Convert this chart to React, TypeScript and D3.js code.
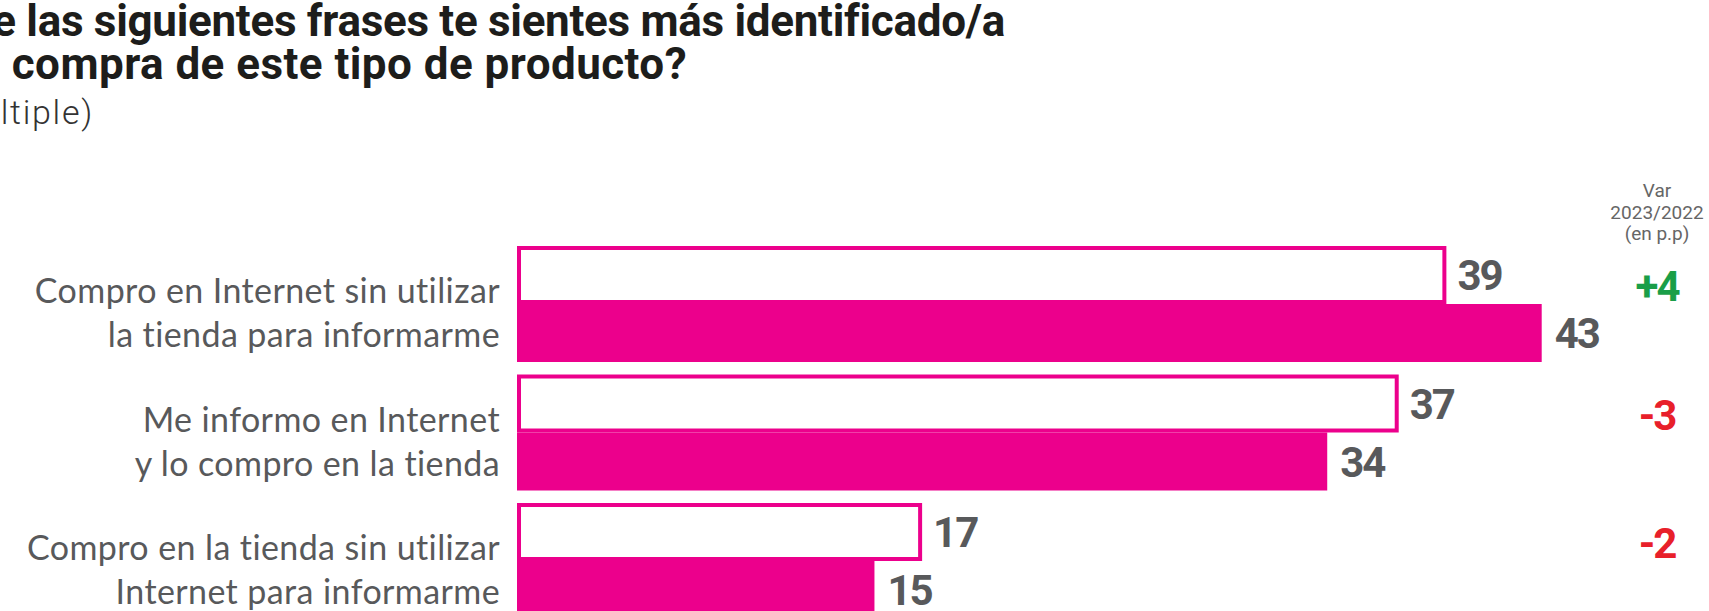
import React from "react";
import * as d3 from "d3";

const categories: string[][] = [
  ["Compro en Internet sin utilizar", "la tienda para informarme"],
  ["Me informo en Internet", "y lo compro en la tienda"],
  ["Compro en la tienda sin utilizar", "Internet para informarme"],
];
const values2022: number[] = [39, 37, 17];
const values2023: number[] = [43, 34, 15];
const variation: string[] = ["+4", "-3", "-2"];
const titleLines: string[] = [
  "¿Con cuál de las siguientes frases te sientes más identificado/a",
  "en la compra de este tipo de producto?",
];
const subtitle = "(Respuesta múltiple)";
const varHeader: string[] = ["Var", "2023/2022", "(en p.p)"];

const W = 1709;
const H = 611;
const PINK = "#EC008C";
const GREY = "#58595B";
const NUM_FONT = "Roboto, sans-serif";

export default function App() {
  const x = d3.scaleLinear().domain([0, 43]).range([517, 1541.7]);
  const y = d3
    .scaleBand<number>()
    .domain(d3.range(categories.length))
    .range([246, 619])
    .paddingInner(0.0973);
  const bw = y.bandwidth() / 2;
  const sw = 4;

  return (
    <div style={{ position: "absolute", left: 0, top: 0 }}>
      <svg width={W} height={H} style={{ display: "block", background: "#fff" }}>
        <g fontFamily="Roboto, sans-serif" fill="#1d1d1b">
          {titleLines.map((t, i) => (
            <text
              key={i}
              x={i === 0 ? 1005 : 687}
              y={i === 0 ? 36 : 79}
              textAnchor="end"
              fontSize={44}
              fontWeight={700}
              letterSpacing={i === 0 ? -0.3 : 0.45}
            >
              {t}
            </text>
          ))}
          <text
            x={94}
            y={124}
            textAnchor="end"
            fontSize={34}
            fontWeight={300}
            letterSpacing={1.7}
            fill="#333"
          >
            {subtitle}
          </text>
        </g>

        <g fontFamily="Roboto, sans-serif" fill="#666" fontSize={19} textAnchor="middle">
          {varHeader.map((t, i) => (
            <text key={i} x={1657} y={197 + i * 21.5}>
              {t}
            </text>
          ))}
        </g>

        {categories.map((lines, i) => {
          const y0 = y(i)!;
          const cy = y0 + y.bandwidth() / 2;
          return (
            <g key={i}>
              <text
                fontFamily="Lato, sans-serif"
                fontSize={34}
                fill={GREY}
                textAnchor="end"
                letterSpacing={0.4}
              >
                <tspan x={500} y={cy - 1}>{lines[0]}</tspan>
                <tspan x={500} y={cy + 43}>{lines[1]}</tspan>
              </text>
              <rect
                x={x(0) + sw / 2}
                y={y0 + sw / 2}
                width={x(values2022[i]) - x(0) - sw}
                height={bw - sw}
                fill="#fff"
                stroke={PINK}
                strokeWidth={sw}
              />
              <rect
                x={x(0)}
                y={y0 + bw}
                width={x(values2023[i]) - x(0)}
                height={bw}
                fill={PINK}
              />
              <text
                x={x(values2022[i]) + 11}
                y={y0 + bw / 2}
                dy="0.36em"
                fontFamily={NUM_FONT}
                fontWeight={700}
                fontSize={42}
                letterSpacing={-2}
                fill={GREY}
              >
                {values2022[i]}
              </text>
              <text
                x={x(values2023[i]) + 13}
                y={y0 + bw * 1.5}
                dy="0.36em"
                fontFamily={NUM_FONT}
                fontWeight={700}
                fontSize={42}
                letterSpacing={-2}
                fill={GREY}
              >
                {values2023[i]}
              </text>
              <text
                x={1657}
                y={cy - 18}
                dy="0.36em"
                textAnchor="middle"
                fontFamily={NUM_FONT}
                fontWeight={700}
                fontSize={42}
                letterSpacing={-2}
                fill={variation[i].startsWith("+") ? "#1A9E48" : "#E8202A"}
              >
                {variation[i]}
              </text>
            </g>
          );
        })}
      </svg>
    </div>
  );
}
